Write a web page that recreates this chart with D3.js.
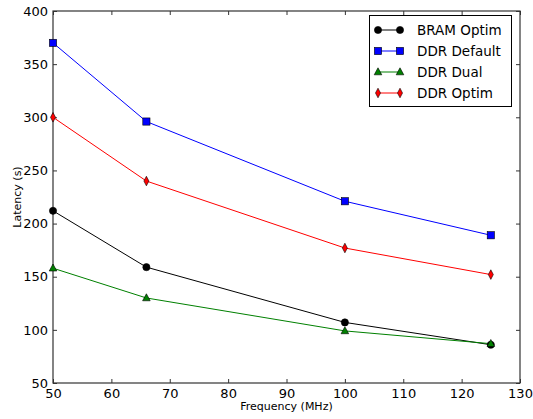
<!DOCTYPE html>
<html lang="en">
<head>
<meta charset="UTF-8">
<title>Latency vs Frequency</title>
<script src="https://d3js.org/d3.v7.min.js"></script>
<style>
  *{padding:0; margin:0;}
  body{background:#fff;}
  text{font-family:"DejaVu Sans", sans-serif; fill:#000;}
</style>
</head>
<body>
<script>
  // data
  const freqs = [50, 66, 100, 125];
  const bramOptim = [212, 159, 107, 86];
  const ddrDefault = [370, 296, 221, 189];
  const ddrDual = [158, 130, 99, 87];
  const ddrOptim = [300, 240, 177, 152];
  const xTicks = [50, 60, 70, 80, 90, 100, 110, 120, 130];
  const yTicks = [50, 100, 150, 200, 250, 300, 350, 400];

  const series = [
    {name: "BRAM Optim", values: bramOptim, color: "#000000", marker: "circle"},
    {name: "DDR Default", values: ddrDefault, color: "#0000ff", marker: "square"},
    {name: "DDR Dual", values: ddrDual, color: "#008000", marker: "triangle"},
    {name: "DDR Optim", values: ddrOptim, color: "#ff0000", marker: "diamond"}
  ];

  const W = 533, H = 419;
  const mLeft = 53, mRight = 520, mTop = 11, mBottom = 383;

  const svg = d3.select("body").append("svg").attr("width", W).attr("height", H);

  const x = d3.scaleLinear().domain([50, 130]).range([mLeft, mRight]);
  const y = d3.scaleLinear().domain([50, 400]).range([mBottom, mTop]);

  // ticks pointing inward on all four sides
  const tl = 4;
  const axisColor = "#333";
  svg.append("g").attr("transform", `translate(0,${mBottom})`)
     .call(d3.axisBottom(x).tickValues(xTicks).tickSizeInner(-tl).tickSizeOuter(0).tickPadding(6))
     .call(g => g.selectAll("text").attr("font-size", 13).attr("dy", "0.71em"));
  svg.append("g").attr("transform", `translate(0,${mTop})`)
     .call(d3.axisTop(x).tickValues(xTicks).tickSizeInner(-tl).tickSizeOuter(0).tickFormat(""));
  svg.append("g").attr("transform", `translate(${mLeft},0)`)
     .call(d3.axisLeft(y).tickValues(yTicks).tickSizeInner(-tl).tickSizeOuter(0).tickPadding(5))
     .call(g => g.selectAll("text").attr("font-size", 13));
  svg.append("g").attr("transform", `translate(${mRight},0)`)
     .call(d3.axisRight(y).tickValues(yTicks).tickSizeInner(-tl).tickSizeOuter(0).tickFormat(""));
  svg.selectAll(".domain").remove();
  svg.selectAll(".tick line").attr("stroke", axisColor);

  // frame
  svg.append("rect").attr("x", mLeft).attr("y", mTop)
     .attr("width", mRight - mLeft).attr("height", mBottom - mTop)
     .attr("fill", "none").attr("stroke", axisColor).attr("stroke-width", 1.2);

  // axis labels
  svg.append("text").attr("x", (mLeft + mRight) / 2).attr("y", 410)
     .attr("text-anchor", "middle").attr("font-size", 11).text("Frequency (MHz)");
  svg.append("text").attr("transform", `translate(21,${(mTop + mBottom) / 2}) rotate(-90)`)
     .attr("text-anchor", "middle").attr("font-size", 11).text("Latency (s)");

  function drawMarker(g, type, color, cx, cy) {
    let el;
    if (type === "circle") {
      el = g.append("circle").attr("cx", cx).attr("cy", cy).attr("r", 3.6);
    } else if (type === "square") {
      el = g.append("rect").attr("x", cx - 3.6).attr("y", cy - 3.6).attr("width", 7.2).attr("height", 7.2);
    } else if (type === "triangle") {
      el = g.append("path").attr("d", `M${cx},${cy - 4.2} L${cx + 3.8},${cy + 2.8} L${cx - 3.8},${cy + 2.8} Z`);
    } else {
      el = g.append("path").attr("d", `M${cx},${cy - 4.8} L${cx + 2.5},${cy} L${cx},${cy + 4.8} L${cx - 2.5},${cy} Z`);
    }
    el.attr("fill", color).attr("stroke", "#000").attr("stroke-width", 0.6);
  }

  const line = d3.line().x((d, i) => x(freqs[i])).y(d => y(d));
  const plot = svg.append("g");
  series.forEach(s => {
    plot.append("path").datum(s.values).attr("d", line)
        .attr("fill", "none").attr("stroke", s.color).attr("stroke-width", 1);
  });
  series.forEach(s => {
    s.values.forEach((v, i) => drawMarker(plot, s.marker, s.color, x(freqs[i]), y(v)));
  });

  // legend
  const lg = svg.append("g");
  lg.append("rect").attr("x", 369.5).attr("y", 15.5).attr("width", 142).attr("height", 91)
    .attr("fill", "#fff").attr("stroke", "#000").attr("stroke-width", 1);
  series.forEach((s, i) => {
    const ly = 30 + i * 21;
    lg.append("line").attr("x1", 378).attr("x2", 400).attr("y1", ly).attr("y2", ly)
      .attr("stroke", s.color).attr("stroke-width", 1);
    drawMarker(lg, s.marker, s.color, 378, ly);
    drawMarker(lg, s.marker, s.color, 400, ly);
    lg.append("text").attr("x", 417).attr("y", ly).attr("dy", "0.35em")
      .attr("font-size", 13.5).text(s.name);
  });
</script>
</body>
</html>
